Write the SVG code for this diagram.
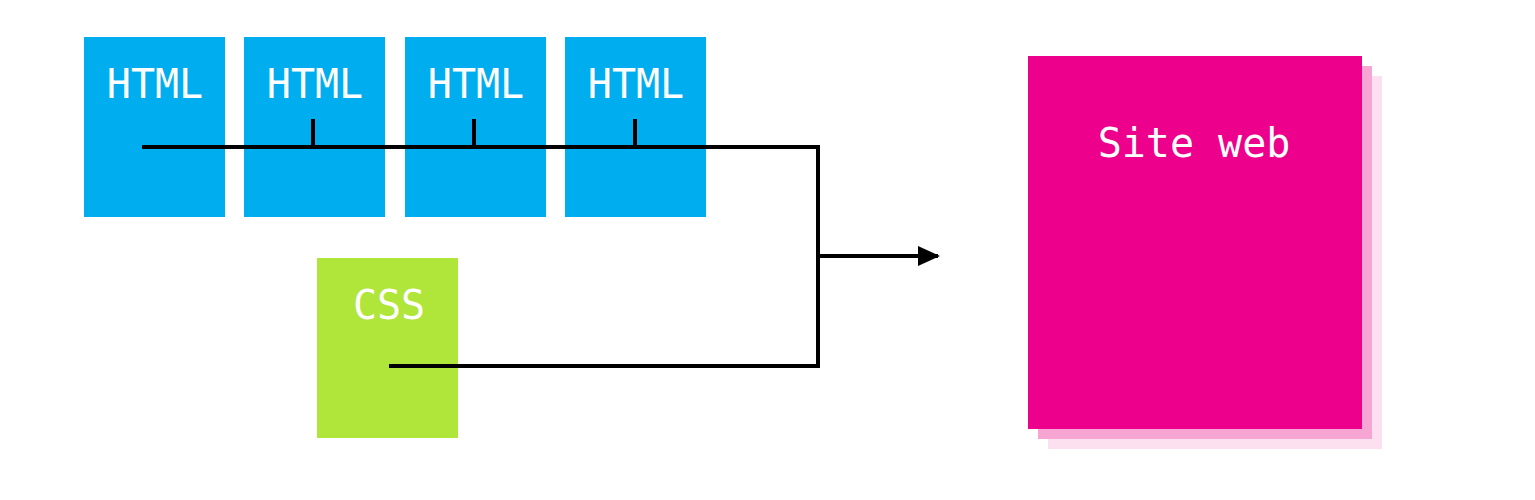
<svg xmlns="http://www.w3.org/2000/svg" width="1535" height="500" viewBox="0 0 1535 500">
<style>
.lbl{font-family:"DejaVu Sans Mono",monospace;font-size:40px;fill:#ffffff;text-anchor:middle}
.html{fill:#00adef}
.css{fill:#b0e539}
.conn{fill:none;stroke:#000;stroke-width:4}
</style>
<defs>
<marker id="arr" markerWidth="22" markerHeight="20" refX="20" refY="10" orient="auto" markerUnits="userSpaceOnUse">
<path d="M0,0 L22,10 L0,20 Z" fill="#000"/>
</marker>
</defs>
<rect width="1535" height="500" fill="#fff"/>
<g id="html1"><rect class="html" x="84" y="37" width="141" height="180"/><text class="lbl" x="155" y="98">HTML</text></g>
<g id="html2"><rect class="html" x="244" y="37" width="141" height="180"/><text class="lbl" x="315" y="98">HTML</text></g>
<g id="html3"><rect class="html" x="405" y="37" width="141" height="180"/><text class="lbl" x="476" y="98">HTML</text></g>
<g id="html4"><rect class="html" x="565" y="37" width="141" height="180"/><text class="lbl" x="636" y="98">HTML</text></g>
<g id="css"><rect class="css" x="317" y="258" width="141" height="180"/><text class="lbl" x="389" y="319">CSS</text></g>
<g id="site">
<rect x="1048" y="76" width="334" height="373" fill="#fde0ef"/>
<rect x="1038" y="66" width="334" height="373" fill="#f7a6d4"/>
<rect x="1028" y="56" width="334" height="373" fill="#ec008c"/>
<text class="lbl" x="1194" y="157">Site web</text>
</g>
<g id="connectors">
<path class="conn" d="M142,147 H818 V366 H389"/>
<path class="conn" d="M313,119 V147 M474,119 V147 M635,119 V147"/>
<path class="conn" d="M818,256 H938" marker-end="url(#arr)"/>
</g>
</svg>
